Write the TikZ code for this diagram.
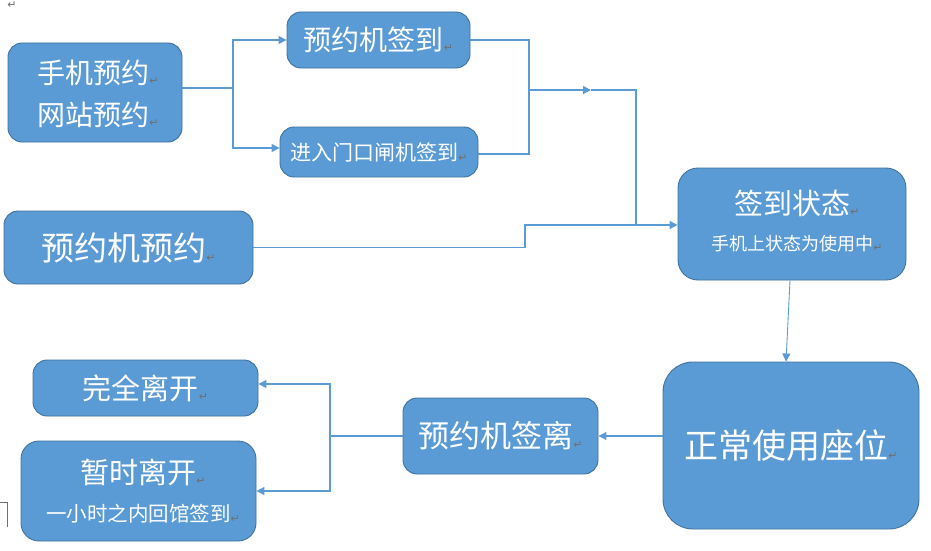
\documentclass[tikz,border=0pt]{standalone}
\usepackage{fontspec}
\newfontfamily\cjk{Noto Sans CJK SC}
\newfontfamily\dejavu{DejaVu Sans}
\usetikzlibrary{arrows.meta}
\definecolor{boxfill}{HTML}{5B9BD5}
\definecolor{boxline}{HTML}{41719C}
\definecolor{linkc}{HTML}{5B9BD5}
\definecolor{markc}{HTML}{6F6F6F}
\newcommand\pmk{{\fontsize{11}{11}\selectfont\dejavu\color{markc}\raisebox{-0.1em}{↵}}}
\newcommand\fs[1]{\fontsize{#1}{#1}\selectfont}
\tikzset{
  box/.style={draw=boxline, line width=0.9pt, fill=boxfill, rounded corners=14pt, inner sep=0pt, text=white, font=\cjk},
  lbl/.style={inner sep=0pt, text=white, font=\cjk, anchor=center},
  link/.style={draw=linkc, line width=1.2pt},
  arr/.style={link, -{Triangle[length=8pt,width=8pt]}},
}
\begin{document}
\begin{tikzpicture}[x=1pt,y=-1pt]
\useasboundingbox (0,0) rectangle (931,551);
% boxes
\node[box, minimum width=174pt, minimum height=99pt] (b1) at (95,92.5) {};
\node[lbl] (b1a) at (98,73) {\fs{28}手机预约\pmk};
\node[lbl] (b1b) at (98,115) {\fs{28}网站预约\pmk};
\node[box, minimum width=183pt, minimum height=56pt] (b2) at (378.5,40) {\fs{28}预约机签到\pmk};
\node[box, minimum width=198pt, minimum height=50pt] (b3) at (379,152) {\fs{21}进入门口闸机签到\pmk};
\node[box, minimum width=249pt, minimum height=73pt] (b4) at (128.5,247.5) {\fs{33}预约机预约\pmk};
\node[box, minimum width=228pt, minimum height=112pt, rounded corners=20pt] (b5) at (792,224) {};
\node[lbl] (b5a) at (797,203) {\fs{29}签到状态\pmk};
\node[lbl] (b5b) at (797,244) {\fs{18}手机上状态为使用中\pmk};
\node[box, minimum width=256pt, minimum height=167pt, rounded corners=30pt] (b6) at (791,445.5) {\fs{34}正常使用座位\pmk};
\node[box, minimum width=195pt, minimum height=76pt] (b7) at (500.5,436) {\fs{31}预约机签离\pmk};
\node[box, minimum width=225pt, minimum height=56pt] (b8) at (145.5,388) {\fs{29}完全离开\pmk};
\node[box, minimum width=235pt, minimum height=100pt, rounded corners=18pt] (b9) at (138.5,491) {};
\node[lbl] (b9a) at (143,472) {\fs{29}暂时离开\pmk};
\node[lbl] (b9b) at (143,514) {\fs{20.5}一小时之内回馆签到\pmk};
% junction coordinates
\coordinate (j1) at (233,88);
\coordinate (m1) at (529,90);
\coordinate (m2) at (591,90);
\coordinate (m3) at (636,225);
\coordinate (c4) at (525,225);
\coordinate (j2) at (330,436);
% connectors
\draw[link] (b1.east |- j1) -- (j1);
\draw[arr] (j1) |- (b2.west);
\draw[arr] (j1) |- ([yshift=4pt]b3.west);
\draw[link] (b2.east) -| (m1);
\draw[link] ([yshift=-2pt]b3.east) -| (m1);
\draw[arr] (m1) -- (m2);
\draw[link] (m2) -| (m3);
\draw[link] (b4.east) -| (c4) -- (m3);
\draw[arr] (m3) -- (m3 -| b5.west);
\draw[arr, line width=0.9pt] ([xshift=-2pt]b5.south) -- ([xshift=-5pt]b6.north);
\draw[arr] (b7.east -| b6.west) -- (b7.east);
\draw[link] (b7.west) -- (j2);
\draw[arr] (j2) |- ([yshift=4pt]b8.east);
\draw[arr] (j2) |- (b9.east);
% stray marks
\node[inner sep=0pt] (pm0) at (12,5) {\pmk};
\draw[markc, line width=0.6pt] (0,502) -- (7,502) -- (7,527);
\end{tikzpicture}
\end{document}
